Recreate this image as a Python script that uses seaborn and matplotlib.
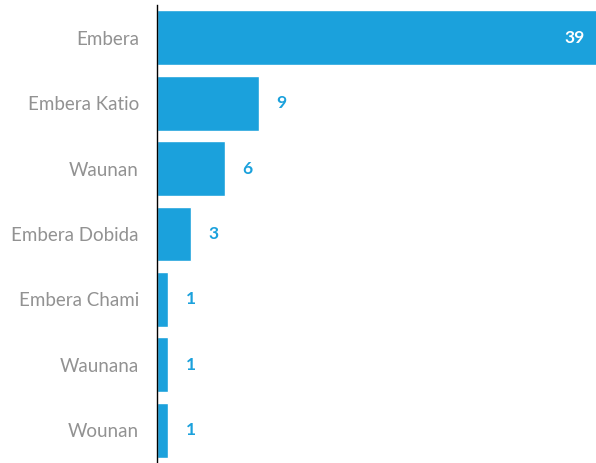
import matplotlib
matplotlib.use("Agg")
import matplotlib.pyplot as plt
import seaborn as sns
import pandas as pd

groups = ["Embera", "Embera Katio", "Waunan", "Embera Dobida",
          "Embera Chami", "Waunana", "Wounan"]
counts = [39, 9, 6, 3, 1, 1, 1]

df = pd.DataFrame({"group": groups, "count": counts})

sns.set_theme(style="white")
plt.rcParams["font.family"] = ["Lato", "DejaVu Sans"]

BLUE = "#1ba1dc"

fig = plt.figure(figsize=(5.96, 4.63), dpi=100)
ax = fig.add_axes([157 / 596, 0.0, 1 - 157 / 596, 1 - 5 / 463])

sns.barplot(data=df, x="count", y="group", orient="h", color=BLUE,
            saturation=1, width=0.84, ax=ax)

ax.set_xlim(0, 38.8)
ax.set_ylim(6.5, -0.5)
ax.set_xlabel("")
ax.set_ylabel("")
ax.set_xticks([])

for side in ["top", "right", "bottom"]:
    ax.spines[side].set_visible(False)
ax.spines["left"].set_color("black")
ax.spines["left"].set_linewidth(1)

ax.tick_params(axis="y", length=0, pad=13, labelsize=13.5, labelcolor="#929292")
for lbl in ax.get_yticklabels():
    lbl.set_fontweight("normal")
    lbl.set_va("center_baseline")

max_v = max(counts)
for i, v in enumerate(counts):
    if v == max_v:
        ax.annotate(str(v), (v, i), xytext=(-10, 0), textcoords="offset points",
                    ha="right", va="center", color="white",
                    fontsize=12.5, fontweight="bold", annotation_clip=False)
    else:
        ax.annotate(str(v), (v, i), xytext=(16, 0), textcoords="offset points",
                    ha="center", va="center", color=BLUE,
                    fontsize=12.5, fontweight="bold", annotation_clip=False)

fig.savefig("out.png", dpi=100)
